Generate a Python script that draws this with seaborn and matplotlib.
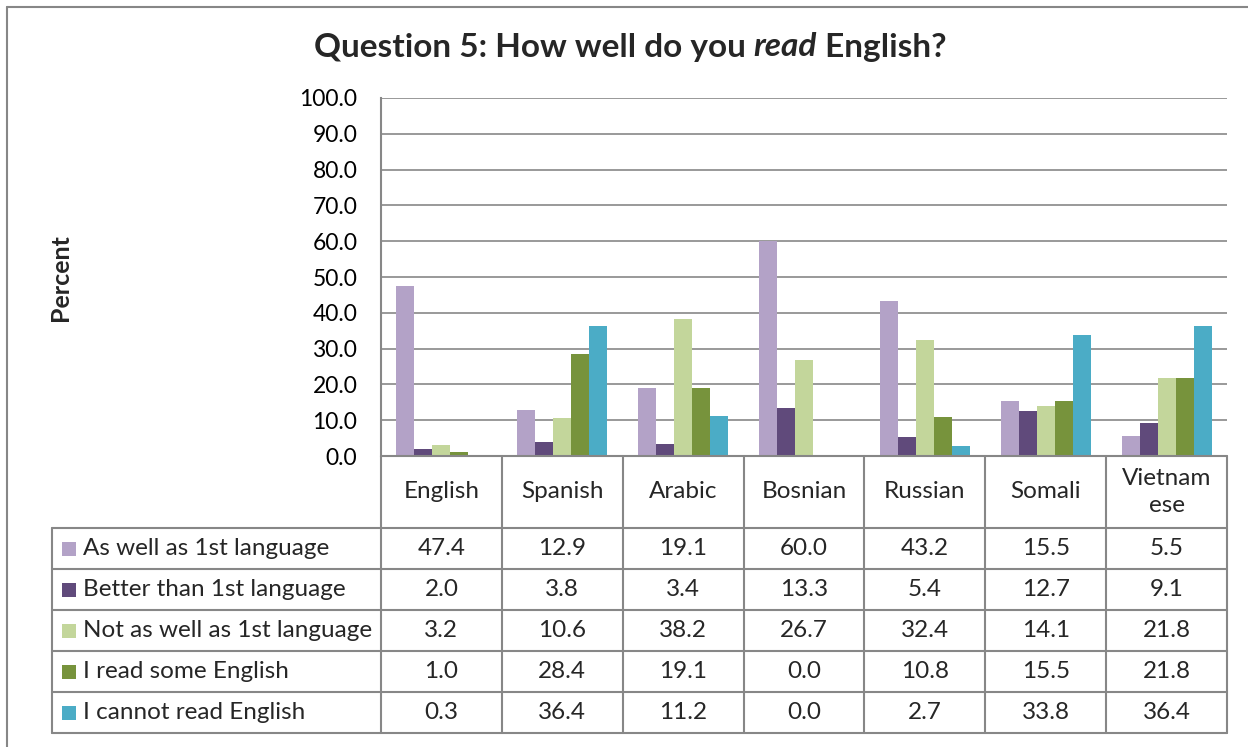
import matplotlib
matplotlib.use("Agg")
import matplotlib.pyplot as plt
import seaborn as sns
import pandas as pd
from matplotlib.lines import Line2D
from matplotlib.patches import Rectangle
from matplotlib.offsetbox import TextArea, HPacker, AnchoredOffsetbox

languages = ["English", "Spanish", "Arabic", "Bosnian", "Russian", "Somali", "Vietnamese"]
language_labels = ["English", "Spanish", "Arabic", "Bosnian", "Russian", "Somali", "Vietnam\nese"]
series_names = ["As well as 1st language", "Better than 1st language",
                "Not as well as 1st language", "I read some English", "I cannot read English"]
as_well = [47.4, 12.9, 19.1, 60.0, 43.2, 15.5, 5.5]
better = [2.0, 3.8, 3.4, 13.3, 5.4, 12.7, 9.1]
not_as_well = [3.2, 10.6, 38.2, 26.7, 32.4, 14.1, 21.8]
read_some = [1.0, 28.4, 19.1, 0.0, 10.8, 15.5, 21.8]
cannot_read = [0.3, 36.4, 11.2, 0.0, 2.7, 33.8, 36.4]
colors = ["#B3A2C7", "#604A7B", "#C3D69B", "#77933C", "#4BACC6"]
yticks = [0, 10, 20, 30, 40, 50, 60, 70, 80, 90, 100]

series_values = [as_well, better, not_as_well, read_some, cannot_read]
rows = []
for name, vals in zip(series_names, series_values):
    for lang, v in zip(languages, vals):
        rows.append({"Language": lang, "Series": name, "Percent": v})
df = pd.DataFrame(rows)

sns.set_theme(style="white")
plt.rcParams["font.family"] = ["Lato", "DejaVu Sans"]

W, H = 1248, 747
fig = plt.figure(figsize=(W / 100, H / 100), dpi=100)

def fx(x):
    return x / W

def fy(y):
    return 1 - y / H

L, R, T, B = 381, 1227, 98, 456
ax = fig.add_axes([fx(L), fy(B), fx(R) - fx(L), fy(T) - fy(B)])
sns.barplot(data=df, x="Language", y="Percent", hue="Series", order=languages,
            hue_order=series_names, palette=colors, width=0.745, saturation=1,
            ax=ax, legend=False, linewidth=0)
ax.set_ylim(0, 100)
ax.set_xlim(-0.5, len(languages) - 0.5)
ax.set_yticks(yticks)
ax.set_yticklabels([f"{v:.1f}" for v in yticks], fontsize=16.5)
ax.tick_params(axis="y", length=0, pad=17, colors="black")
ax.set_xticks([])
ax.set_xlabel("")
ax.set_ylabel("")
ax.grid(axis="y", color="#878787", linewidth=1.2)
ax.set_axisbelow(True)
for s in ["top", "right", "bottom"]:
    ax.spines[s].set_visible(False)
ax.spines["left"].set_color("#878787")
ax.spines["left"].set_linewidth(1.5)

tfs = 24
parts = [TextArea("Question 5: How well do you ", textprops=dict(fontsize=tfs, fontweight="bold")),
         TextArea("read", textprops=dict(fontsize=tfs, fontweight="bold", style="italic")),
         TextArea(" English?", textprops=dict(fontsize=tfs, fontweight="bold"))]
box = HPacker(children=parts, align="baseline", pad=0, sep=0)
anch = AnchoredOffsetbox(loc="center", child=box, frameon=False,
                         bbox_to_anchor=(fx(630), fy(47)), bbox_transform=fig.transFigure, borderpad=0)
fig.add_artist(anch)

fig.text(fx(60), fy(278), "Percent", rotation=90, ha="center", va="center",
         fontsize=18, fontweight="bold")

# outer frame (top and left edges visible)
frame_kw = dict(color="#878787", linewidth=1.5, transform=fig.transFigure)
fig.add_artist(Line2D([fx(7), fx(1248)], [fy(7), fy(7)], **frame_kw))
fig.add_artist(Line2D([fx(7), fx(7)], [fy(7), fy(747)], **frame_kw))

# data table
line_kw = dict(color="#878787", linewidth=1.5, transform=fig.transFigure)
col_w = (R - L) / len(languages)
col_x = [L + i * col_w for i in range(len(languages) + 1)]
row_y = [456, 528, 569, 610, 651, 692, 733]
TL = 52
for x in col_x:
    fig.add_artist(Line2D([fx(x), fx(x)], [fy(row_y[0]), fy(row_y[-1])], **line_kw))
fig.add_artist(Line2D([fx(TL), fx(TL)], [fy(row_y[1]), fy(row_y[-1])], **line_kw))
fig.add_artist(Line2D([fx(L), fx(R)], [fy(row_y[0]), fy(row_y[0])], **line_kw))
for y in row_y[1:]:
    fig.add_artist(Line2D([fx(TL), fx(R)], [fy(y), fy(y)], **line_kw))

fs = 17.5
for i, lab in enumerate(language_labels):
    cx = (col_x[i] + col_x[i + 1]) / 2
    fig.text(fx(cx), fy((row_y[0] + row_y[1]) / 2), lab, ha="center", va="center",
             fontsize=fs, linespacing=1.4)
for r, (name, vals, c) in enumerate(zip(series_names, series_values, colors)):
    yc = (row_y[r + 1] + row_y[r + 2]) / 2
    fig.add_artist(Rectangle((fx(62), fy(yc + 7)), fx(14), fy(0) - fy(14),
                             transform=fig.transFigure, facecolor=c, edgecolor="none"))
    fig.text(fx(83), fy(yc), name, ha="left", va="center", fontsize=fs)
    for i, v in enumerate(vals):
        cx = (col_x[i] + col_x[i + 1]) / 2
        fig.text(fx(cx), fy(yc), f"{v:.1f}", ha="center", va="center", fontsize=fs)

fig.savefig("out.png", dpi=100)
